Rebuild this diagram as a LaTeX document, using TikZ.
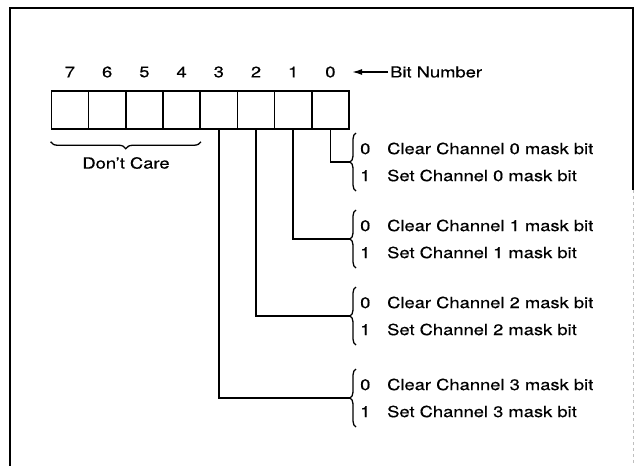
\documentclass[tikz,border=0pt]{standalone}
\usepackage{fontspec}
\setmainfont{TeX Gyre Heros}[FakeStretch=1.2, FakeBold=0.4]
\usepackage{tikz}
\usetikzlibrary{arrows.meta, decorations.pathreplacing, positioning}

\tikzset{
  cell/.style={draw, line width=1.5pt, minimum width=37.2pt, minimum height=38pt, inner sep=0pt},
  lbl/.style={font=\fontsize{15.3}{18}\selectfont, inner sep=0pt},
  wire/.style={line width=1.5pt},
  curly/.style={line width=1.3pt, decorate, decoration={brace, amplitude=6pt}},
}

\begin{document}
\begin{tikzpicture}[x=1pt, y=-1pt]
	\useasboundingbox (0,0) rectangle (635,466);
	% Draw frame
	\draw[line width=2pt] (10,466) -- (10,8) -- (633,8) -- (633,190);
	\draw[gray!50, dashed] (633,190) -- (633,466);
	% Draw register cells and bit numbers
	\foreach \i in {0,...,7} {
		\node[cell] (c\i) at ({349-37.2*(\i+0.5)},110) {};
		\node[lbl] (d\i) at ({349-37.2*(\i+0.5)},72) {\i};
	}
	% Bit number label
	\node[lbl, anchor=west] (bitnum) at (390,72) {Bit Number};
	\coordinate (arrtip) at (352,72);
	\draw[wire, -{Latex[length=10pt,width=6pt]}, shorten <=2pt] (bitnum.west) -- (arrtip);
	% Don't care brace
	\draw[curly, decoration={brace, mirror, amplitude=7pt}]
		([yshift=-12pt]c7.south west) -- ([yshift=-12pt]c4.south east);
	\node[lbl] (dontcare) at (126,163) {Don't Care};
	% Mask bit groups
	\foreach \i/\y in {0/162, 1/239, 2/316, 3/398} {
		\coordinate (tip\i) at (350,\y);
		\draw[wire] (c\i.south) |- (tip\i);
		\draw[curly] (356,\y+29) -- (356,\y-29);
		\node[lbl, anchor=west] (clr\i) at (360,\y-13.5) {\makebox[27pt][l]{0}Clear Channel \i{} mask bit};
		\node[lbl, anchor=west] (set\i) at (360,\y+13.5) {\makebox[27pt][l]{1}Set Channel \i{} mask bit};
	}
\end{tikzpicture}
\end{document}
